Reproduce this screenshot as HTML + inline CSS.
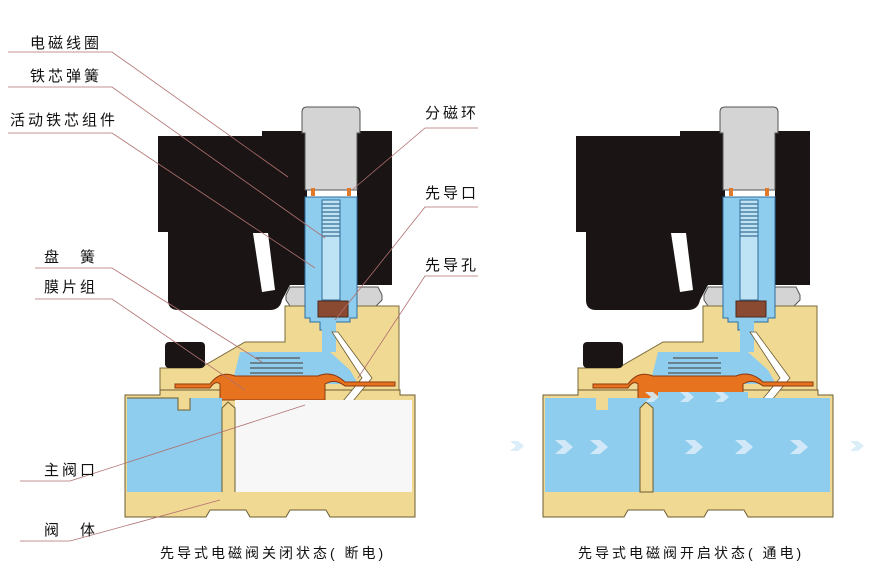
<!DOCTYPE html>
<html><head><meta charset="utf-8"><style>
html,body{margin:0;padding:0;background:#fff;width:884px;height:569px;overflow:hidden}
svg{display:block}
text{font-family:"Liberation Sans","Noto Sans CJK SC",sans-serif;font-size:15px;fill:#111;letter-spacing:3px}
</style></head><body>
<svg width="884" height="569" viewBox="0 0 884 569" xmlns="http://www.w3.org/2000/svg">
<defs>
<g id="valve">
  <path d="M158,136 H262 V131 H307 V285 H290 L282,300 Q280,310 270,310 H178 Q168,310 168,300 V232 H158 Z" fill="#1a1414"/>
  <rect x="357" y="131" width="35" height="154" fill="#1a1414"/>
  <path d="M253,233 L268,233 L275,290 L262,292 Z" fill="#fff"/>
  <path d="M302,112 Q302,107 307,107 H355 Q360,107 360,112 V133 H357 V190 H305 V133 H302 Z" fill="#d4d4d4" stroke="#555" stroke-width="1"/>
  <path d="M290,287 H305 V300 H357 V287 H378 L382,295 V300 L376,306 H290 L286,300 V295 Z" fill="#d4d4d4" stroke="#555" stroke-width="1"/>
  <path d="M285,306 H399 V390 H160 V368 H200 L245,342 H285 Z" fill="#f0d993" stroke="#7a6a3a" stroke-width="1"/>
  <rect x="165" y="342" width="40" height="26" rx="4" fill="#1a1414"/>
  <path d="M125,395 H160 V390 H400 V395 H415 V517 H330 L326,510 H290 L286,517 H250 L246,510 H210 L206,517 H125 Z" fill="#f0d993" stroke="#6b5c30" stroke-width="1"/>
  <path d="M305,197 H357 V318 H350 V322 H335 V330 H320 V322 H310 V318 H305 Z" fill="#8ecdee" stroke="#2e6e9e" stroke-width="1"/>
  <path d="M322,320 H336 V352 H322 Z" fill="#8ecdee"/>
  <rect x="311" y="188" width="4" height="8" fill="#e07a2a"/>
  <rect x="347" y="188" width="4" height="8" fill="#e07a2a"/>
  <rect x="322" y="200" width="18" height="100" fill="#bde3f4" stroke="#2e6e9e" stroke-width="1"/>
  <g stroke="#3a6f92" stroke-width="1.3">
   <line x1="322" y1="204" x2="340" y2="204"/><line x1="322" y1="208" x2="340" y2="208"/><line x1="322" y1="212" x2="340" y2="212"/><line x1="322" y1="216" x2="340" y2="216"/><line x1="322" y1="220" x2="340" y2="220"/><line x1="322" y1="224" x2="340" y2="224"/><line x1="322" y1="228" x2="340" y2="228"/><line x1="322" y1="232" x2="340" y2="232"/><line x1="322" y1="236" x2="340" y2="236"/>
  </g>
  <rect x="318" y="301" width="30" height="16" fill="#8a4a32" stroke="#4a2a1a"/>
  <path d="M240,352 H330 L350,370 L358,384 H232 Z" fill="#8ecdee"/>
  <g stroke="#555" stroke-width="1.2"><line x1="255" y1="358" x2="300" y2="358"/><line x1="250" y1="363" x2="303" y2="363"/><line x1="250" y1="368" x2="303" y2="368"/><line x1="250" y1="373" x2="303" y2="373"/></g>
  <path d="M332,332 L338,332 L372,378 L344,412 L334,412 L362,378 Z" fill="#fff" stroke="#6b5c30" stroke-width="0.8"/>
  <path d="M175,384 H210 Q220,370 235,376 H318 Q332,370 345,382 H395 V386 H345 Q335,378 325,384 V400 H220 V384 Q215,380 210,388 H175 Z" fill="#e8731f" stroke="#8a3a10" stroke-width="1"/>
</g>
</defs>

<use href="#valve"/>
<path d="M235,400 H412 V492 H235 Z" fill="#f7f7f7"/>
<path d="M127,398 H178 V410 H190 V398 H222 V492 H127 Z" fill="#8ecdee"/>
<path d="M127,398 H178 V410 H190 V398" fill="none" stroke="#6b5c30"/>
<path d="M222,492 V408 L228,402 L235,408 V492" fill="#f0d993" stroke="#6b5c30"/>

<use href="#valve" x="418"/>
<path d="M545,398 H596 V410 H608 V398 H830 V492 H545 Z" fill="#8ecdee"/>
<path d="M640,492 V408 L646,402 L653,408 V492 Z" fill="#f0d993" stroke="#6b5c30"/>
<rect x="658" y="392" width="90" height="10" fill="#8ecdee"/>
<g fill="#d8ecf8" opacity="0.9">
 <path d="M555,440 l10,0 l8,7 l-8,7 l-10,0 l8,-7z"/><path d="M590,440 l10,0 l8,7 l-8,7 l-10,0 l8,-7z"/>
 <path d="M685,440 l10,0 l8,7 l-8,7 l-10,0 l8,-7z"/><path d="M735,440 l10,0 l8,7 l-8,7 l-10,0 l8,-7z"/><path d="M790,440 l10,0 l8,7 l-8,7 l-10,0 l8,-7z"/>
 <path d="M645,392 l8,0 l6,5 l-6,5 l-8,0 l6,-5z"/><path d="M680,392 l8,0 l6,5 l-6,5 l-8,0 l6,-5z"/><path d="M715,392 l8,0 l6,5 l-6,5 l-8,0 l6,-5z"/>
 <path d="M510,441 l8,0 l6,5 l-6,5 l-8,0 l6,-5z"/><path d="M850,441 l8,0 l6,5 l-6,5 l-8,0 l6,-5z"/>
</g>

<g stroke="#b07070" stroke-width="0.8" fill="none">
 <polyline points="8,52 112,52 288,177"/>
 <polyline points="8,87 112,87 325,238"/>
 <polyline points="8,133 112,133 315,268"/>
 <polyline points="35,268 112,268 262,362"/>
 <polyline points="35,299 112,299 245,390"/>
 <polyline points="20,481 70,481 305,405"/>
 <polyline points="20,541 70,541 220,500"/>
 <polyline points="478,128 425,128 352,190"/>
 <polyline points="478,207 425,207 335,320"/>
 <polyline points="478,276 425,276 358,378"/>
</g>

<text x="30" y="48">电磁线圈</text>
<text x="30" y="81">铁芯弹簧</text>
<text x="10" y="125">活动铁芯组件</text>
<text x="44" y="262">盘　簧</text>
<text x="44" y="292">膜片组</text>
<text x="44" y="475">主阀口</text>
<text x="44" y="535">阀　体</text>
<text x="425" y="118">分磁环</text>
<text x="425" y="198">先导口</text>
<text x="425" y="270">先导孔</text>
<text x="160" y="558" style="font-size:14px">先导式电磁阀关闭状态( 断电)</text>
<text x="578" y="558" style="font-size:14px">先导式电磁阀开启状态( 通电)</text>
</svg>
</body></html>
